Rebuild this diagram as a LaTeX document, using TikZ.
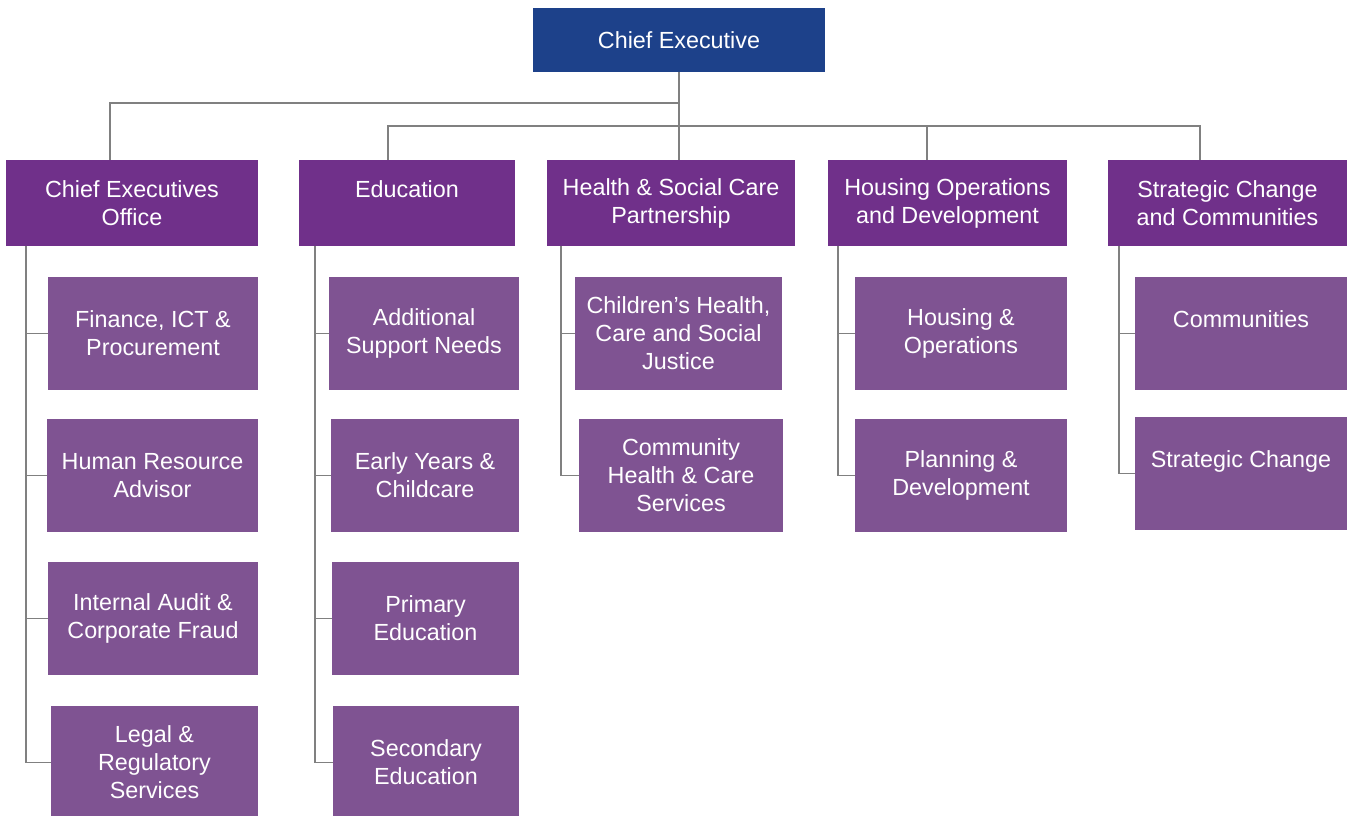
\documentclass[tikz,border=0pt]{standalone}
\usepackage{fontspec}
\setmainfont{Liberation Sans}
\definecolor{ceblue}{RGB}{29,65,138}
\definecolor{dirpurple}{RGB}{112,48,138}
\definecolor{svcpurple}{RGB}{127,83,146}
\definecolor{linkgray}{RGB}{128,128,128}
\newlength{\du}
\setlength{\du}{0.75pt}

\begin{document}
\begin{tikzpicture}[yscale=-1,
  orgbox/.style={rectangle,inner sep=0pt,outer sep=0pt,align=center,text=white,
    font=\fontsize{17.5}{21}\selectfont},
  headbox/.style={orgbox,fill=ceblue,minimum width=292\du,minimum height=64\du},
  dirbox/.style={orgbox,fill=dirpurple,minimum height=86\du},
  svcbox/.style={orgbox,fill=svcpurple,minimum height=113\du},
  link/.style={draw=linkgray,line width=1.3\du}]

\useasboundingbox (0,0) rectangle (1354\du,816\du);

% top
\node[headbox] (ce) at (679\du,40\du) {Chief Executive};

% directorates
\node[dirbox,minimum width=252\du] (ceo) at (132\du,203\du) {Chief Executives\\Office};
\node[dirbox,minimum width=216\du] (edu) at (407\du,203\du) {Education\\\mbox{}};
\node[dirbox,minimum width=248\du] (hsc) at (671\du,203\du) {Health \& Social Care\\Partnership};
\node[dirbox,minimum width=239\du] (hod) at (947.5\du,203\du) {Housing Operations\\and Development};
\node[dirbox,minimum width=239\du] (scc) at (1227.5\du,203\du) {Strategic Change\\and Communities};

% services
\node[svcbox,minimum width=210\du] (fin) at (153\du,333.5\du) {Finance, ICT \&\\Procurement};
\node[svcbox,minimum width=211\du] (hr) at (152.5\du,475.5\du) {Human Resource\\Advisor};
\node[svcbox,minimum width=210\du] (audit) at (153\du,618.5\du) {Internal Audit \&\\Corporate Fraud};
\node[svcbox,minimum width=207\du] (legal) at (154.5\du,762.5\du) {Legal \&\\Regulatory\\Services};

\node[svcbox,minimum width=190\du] (asn) at (424\du,333.5\du) {Additional\\Support Needs};
\node[svcbox,minimum width=188\du] (eyc) at (425\du,475.5\du) {Early Years \&\\Childcare};
\node[svcbox,minimum width=187\du] (pri) at (425.5\du,618.5\du) {Primary\\Education};
\node[svcbox,minimum width=186\du] (sec) at (426\du,762.5\du) {Secondary\\Education};

\node[svcbox,minimum width=207\du] (chj) at (678.5\du,333.5\du) {Children’s Health,\\Care and Social\\Justice};
\node[svcbox,minimum width=204\du] (chc) at (681\du,475.5\du) {Community\\Health \& Care\\Services};

\node[svcbox,minimum width=212\du] (hop) at (961\du,333.5\du) {Housing \&\\Operations};
\node[svcbox,minimum width=212\du] (pdv) at (961\du,475.5\du) {Planning \&\\Development};

\node[svcbox,minimum width=212\du] (com) at (1241\du,333.5\du) {Communities\\\mbox{}};
\node[svcbox,minimum width=212\du] (stc) at (1241\du,473.5\du) {Strategic Change\\\mbox{}};

% connectors
\coordinate (busA) at (0,103\du);
\coordinate (busB) at (0,126\du);
\draw[link] (ce.south) -- (ce.south |- hsc.north);
\draw[link] (ce.south |- busA) -| ([xshift=-22\du]ceo.north);
\draw[link] ([xshift=-19\du]edu.north) |- ([xshift=-27.5\du]scc.north |- busB) -- ([xshift=-27.5\du]scc.north);
\draw[link] ([xshift=-20.5\du]hod.north) -- ([xshift=-20.5\du]hod.north |- busB);

\foreach \dir/\dx/\svc in {ceo/20/{fin,hr,audit,legal},edu/16/{asn,eyc,pri,sec},
    hsc/14/{chj,chc},hod/10/{hop,pdv},scc/11/{com,stc}}
  \foreach \s in \svc
    \draw[link] ([xshift=\dx\du]\dir.south west) |- (\s.west);
\end{tikzpicture}
\end{document}
